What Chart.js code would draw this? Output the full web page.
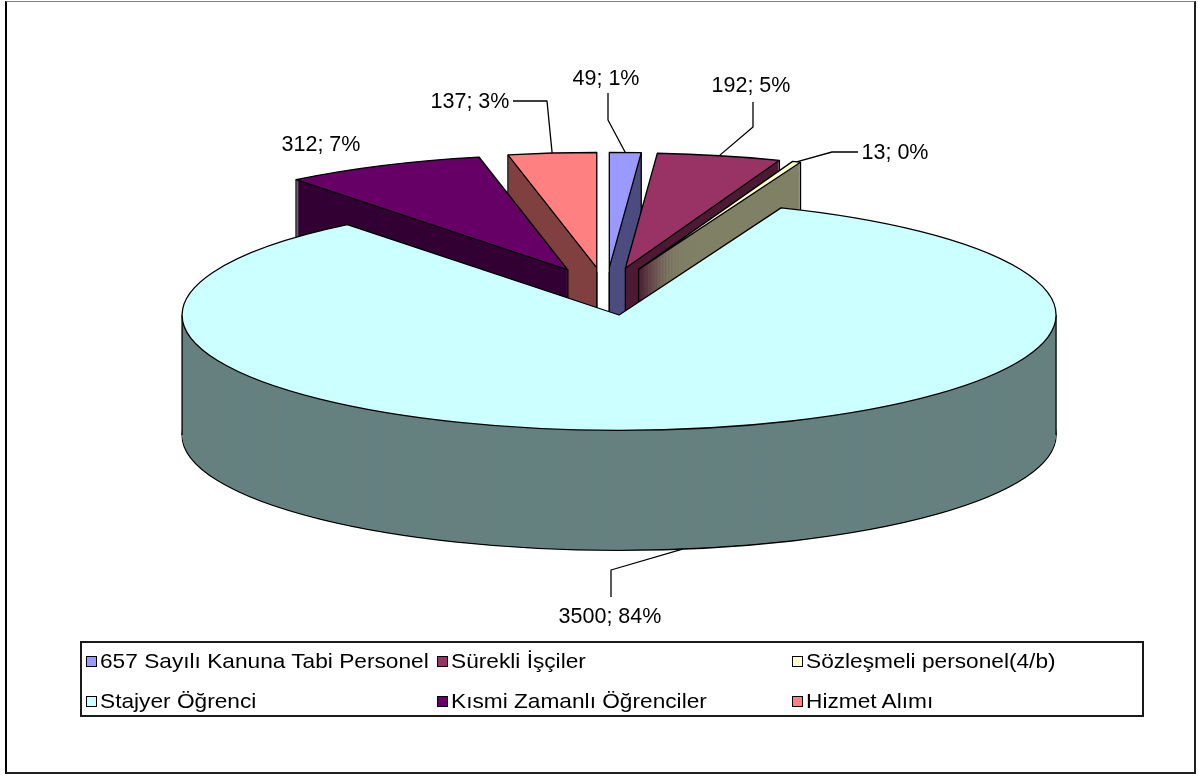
<!DOCTYPE html>
<html lang="tr">
<head>
<meta charset="utf-8">
<title>Personel Dağılımı</title>
<script src="https://cdn.jsdelivr.net/npm/chart.js@4.4.0/dist/chart.umd.min.js"></script>
<style>
    html, body { margin: 0; padding: 0; background: #fff; }
    #halaman { position: relative; width: 1198px; height: 776px; overflow: hidden; font-family: "Liberation Sans", Arial, sans-serif; }
    #bingkai { position: absolute; left: 5px; top: 1px; width: 1191px; height: 773px; box-sizing: border-box;
        border-left: 2px solid #000; border-top: 1px solid #808080; border-right: 2px solid #202020; border-bottom: 2px solid #202020; }
    #grafikPersonel { position: absolute; left: 0; top: 0; }
    #kotakLegenda { position: absolute; left: 80px; top: 641px; width: 1064px; height: 76px; box-sizing: border-box; border: 2px solid #1a1a1a; }
    .itemLegenda { position: absolute; height: 24px; display: flex; align-items: center; white-space: nowrap; }
    .kotakWarna { display: block; width: 11px; height: 11px; min-width: 11px; box-sizing: border-box; border: 1.5px solid #000; margin-right: 3px; flex: none; }
    .teksLegenda { font-size: 21px; color: #000; display: inline-block; transform: scaleX(1.08); transform-origin: left center; }
</style>
</head>
<body>
<div id="halaman">
    <div id="bingkai"></div>
    <canvas id="grafikPersonel" width="1198" height="776"></canvas>
    <div id="kotakLegenda"></div>
</div>
<script>
// 1. Data grafik
const kategori = ['657 Sayılı Kanuna Tabi Personel', 'Sürekli İşçiler', 'Sözleşmeli personel(4/b)',
    'Stajyer Öğrenci', 'Kısmi Zamanlı Öğrenciler', 'Hizmet Alımı'];
const jumlahOrang = [49, 192, 13, 3500, 312, 137];
const labelPersen = ['1%', '5%', '0%', '84%', '7%', '3%'];

// 2. Warna dan ukuran tampilan
const warnaAtas = ['#9999FF', '#993366', '#FFFFCC', '#CCFFFF', '#660066', '#FF8080'];
const warnaSisi = ['#4D4D80', '#4D1A33', '#808066', '#668080', '#330033', '#804040'];
const pusatX = 606;
const pusatY = 291.5;
const jariJari = 437;
const rasioTinggi = 0.264;   // kemiringan kue (elips)
const tebal = 120;           // tinggi sisi kue 3D
const jarakLedak = 90;       // jarak irisan keluar dari tengah

// posisi teks label [tengahX, garisDasarY] dan titik siku garis penunjuk
const posisiLabel = [
    { teks: [606, 85], siku: [[608, 93], [608, 120]] },
    { teks: [751, 92], siku: [[753, 102], [753, 127]] },
    { teks: [895, 159], siku: [[858, 152], [832, 152]] },
    { teks: [610, 623], siku: [[611, 597], [611, 570]] },
    { teks: [321, 151], siku: [] },
    { teks: [470, 108], siku: [[513, 101], [547, 101]] }
];
const kolomLegenda = [84, 435, 790];
const barisLegenda = [659, 699];

// 3. Fungsi bantu untuk gambar kue 3D
function sudutTengah(arc) {
    return (arc.startAngle + arc.endAngle) / 2;
}

function pasangTransform(ctx, arc, turun) {
    const tengah = sudutTengah(arc);
    ctx.translate(pusatX, pusatY + turun);
    ctx.scale(1, rasioTinggi);
    ctx.translate(Math.cos(tengah) * jarakLedak - arc.x, Math.sin(tengah) * jarakLedak - arc.y);
}

function titikLayar(arc, sudut, r, turun) {
    const tengah = sudutTengah(arc);
    return {
        x: pusatX + Math.cos(tengah) * jarakLedak + Math.cos(sudut) * r,
        y: pusatY + turun + rasioTinggi * (Math.sin(tengah) * jarakLedak + Math.sin(sudut) * r)
    };
}

function jalurIrisan(ctx, arc, turun) {
    ctx.save();
    pasangTransform(ctx, arc, turun);
    ctx.beginPath();
    ctx.moveTo(arc.x, arc.y);
    ctx.arc(arc.x, arc.y, arc.outerRadius, arc.startAngle, arc.endAngle);
    ctx.closePath();
    ctx.restore(); // jalur tetap ada, garis tidak ikut gepeng
}

function garisTegak(ctx, arc, sudut, r) {
    const atas = titikLayar(arc, sudut, r, 0);
    ctx.beginPath();
    ctx.moveTo(atas.x, atas.y);
    ctx.lineTo(atas.x, atas.y + tebal);
    ctx.stroke();
}

function gambarSisi(ctx, arc, warna) {
    ctx.fillStyle = warna;
    ctx.strokeStyle = '#000';
    ctx.lineWidth = 1.3;
    ctx.lineJoin = 'round';
    for (let j = tebal; j >= 1; j--) {
        jalurIrisan(ctx, arc, j);
        ctx.fill();
        if (j === tebal) ctx.stroke();
    }

    const s = arc.startAngle;
    const e = arc.endAngle;
    if (Math.sin(s) > 0 || Math.cos(s) < 0) garisTegak(ctx, arc, s, arc.outerRadius);
    if (Math.sin(e) > 0 || Math.cos(e) > 0) garisTegak(ctx, arc, e, arc.outerRadius);
    if (Math.cos(s) < 0 || Math.cos(e) > 0) garisTegak(ctx, arc, s, 0);
    for (let m = -1; m <= 3; m++) {
        const a = m * Math.PI;
        if (a > s && a < e) garisTegak(ctx, arc, a, arc.outerRadius);
    }
}

const kue3D = {
    id: 'kue3D',
    beforeDatasetsDraw(chart) {
        const ctx = chart.ctx;
        const irisan = chart.getDatasetMeta(0).data;

        // sisi samping: dari belakang ke depan
        const urutan = irisan.map((arc, i) => i)
            .sort((a, b) => Math.sin(sudutTengah(irisan[a])) - Math.sin(sudutTengah(irisan[b])));
        urutan.forEach(function(i) {
            gambarSisi(ctx, irisan[i], warnaSisi[i]);
        });

        // permukaan atas digambar oleh elemen arc Chart.js
        irisan.forEach(function(arc) {
            ctx.save();
            pasangTransform(ctx, arc, 0);
            arc.draw(ctx);
            ctx.restore();
            jalurIrisan(ctx, arc, 0);
            ctx.strokeStyle = '#000';
            ctx.lineWidth = 1.3;
            ctx.stroke();
        });
        return false;
    },
    afterDraw(chart) {
        const ctx = chart.ctx;
        const irisan = chart.getDatasetMeta(0).data;
        ctx.save();
        ctx.font = '21.5px "Liberation Sans", Arial, sans-serif';
        ctx.textAlign = 'center';
        ctx.textBaseline = 'alphabetic';
        ctx.fillStyle = '#000';
        ctx.strokeStyle = '#000';
        ctx.lineWidth = 1.3;
        irisan.forEach(function(arc, i) {
            const pos = posisiLabel[i];
            if (pos.siku.length > 0) {
                const tengah = sudutTengah(arc);
                const turun = Math.sin(tengah) > 0 ? tebal : 0;
                const ujung = titikLayar(arc, tengah, arc.outerRadius, turun);
                ctx.beginPath();
                ctx.moveTo(pos.siku[0][0], pos.siku[0][1]);
                for (let k = 1; k < pos.siku.length; k++) ctx.lineTo(pos.siku[k][0], pos.siku[k][1]);
                ctx.lineTo(ujung.x, ujung.y);
                ctx.stroke();
            }
            ctx.fillText(jumlahOrang[i] + '; ' + labelPersen[i], pos.teks[0], pos.teks[1]);
        });
        ctx.restore();
    }
};

// 4. Buat grafik
new Chart(document.getElementById('grafikPersonel').getContext('2d'), {
    type: 'pie',
    data: {
        labels: kategori,
        datasets: [{
            data: jumlahOrang,
            backgroundColor: warnaAtas,
            borderWidth: 0,
            radius: jariJari
        }]
    },
    options: {
        responsive: false,
        animation: false,
        events: [],
        plugins: {
            legend: { display: false },
            tooltip: { enabled: false }
        }
    },
    plugins: [kue3D]
});

// 5. Legenda di bawah grafik
const kotakLegenda = document.getElementById('kotakLegenda');
kategori.forEach(function(nama, i) {
    const item = document.createElement('div');
    item.className = 'itemLegenda';
    item.style.left = (kolomLegenda[i % 3] - 80) + 'px';
    item.style.top = (barisLegenda[Math.floor(i / 3)] - 641 - 12) + 'px';

    const kotak = document.createElement('span');
    kotak.className = 'kotakWarna';
    kotak.style.backgroundColor = warnaAtas[i];

    const teks = document.createElement('span');
    teks.className = 'teksLegenda';
    teks.textContent = nama;

    item.appendChild(kotak);
    item.appendChild(teks);
    kotakLegenda.appendChild(item);
});
</script>
</body>
</html>
